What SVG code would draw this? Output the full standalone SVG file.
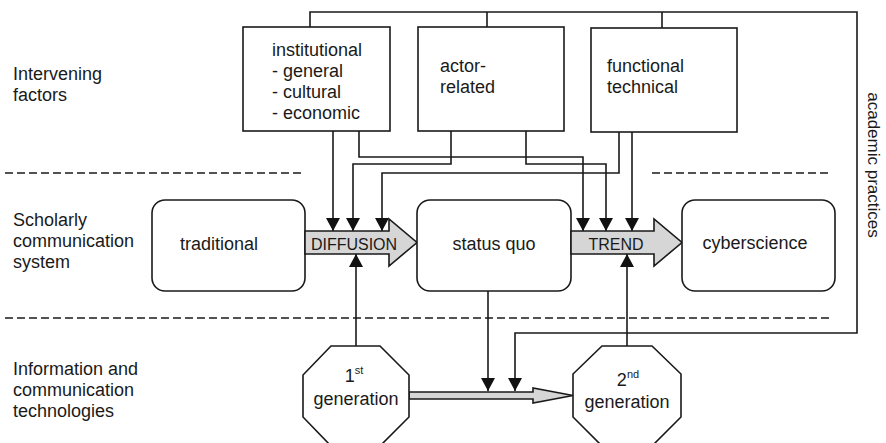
<svg xmlns="http://www.w3.org/2000/svg" width="886" height="443" viewBox="0 0 886 443">
<defs>
<marker id="ah" viewBox="0 0 14 14" refX="13" refY="7" markerWidth="14" markerHeight="14" markerUnits="userSpaceOnUse" orient="auto">
<path d="M0,0 L13,7 L0,14 z" fill="#111"/>
</marker>
<style>
text{font-family:"Liberation Sans",Arial,sans-serif;font-size:18px;fill:#1a1a1a}
.box{fill:#fff;stroke:#1a1a1a;stroke-width:1.6}
.big{fill:#d6d6d6;stroke:#1a1a1a;stroke-width:1.6}
.dash{stroke:#1a1a1a;stroke-width:1.5;stroke-dasharray:8 4;fill:none}
.con{fill:none;stroke:#1a1a1a;stroke-width:1.6}
.arr{marker-end:url(#ah)}
.mid{text-anchor:middle}
</style>
</defs>
<rect width="886" height="443" fill="#fff"/>
<g id="separators">
<line class="dash" x1="5" y1="173" x2="303" y2="173"/>
<line class="dash" x1="652" y1="173" x2="832" y2="173"/>
<line class="dash" x1="5" y1="318" x2="832" y2="318"/>
</g>
<g id="row-labels">
<text x="13" y="80">Intervening</text>
<text x="13" y="101">factors</text>
<text x="13" y="226">Scholarly</text>
<text x="13" y="247">communication</text>
<text x="13" y="268">system</text>
<text x="13" y="375">Information and</text>
<text x="13" y="396">communication</text>
<text x="13" y="417">technologies</text>
<text x="868" y="165" class="mid" transform="rotate(90 868 165)" style="font-size:17px">academic practices</text>
</g>
<g id="connectors">
<path class="con" d="M310,27 V12 H857 V333 H515 V391" marker-end="url(#ah)"/>
<path class="con" d="M487,12 V27 M662,12 V28"/>
<path class="con arr" d="M333,131 V231"/>
<path class="con arr" d="M359,131 V157 H583 V231"/>
<path class="con arr" d="M451,131 V164 H353 V231"/>
<path class="con arr" d="M526,131 V164 H606 V231"/>
<path class="con arr" d="M619,132 V173 H382 V231"/>
<path class="con arr" d="M632,132 V231"/>
<path class="con arr" d="M356,346 V254"/>
<path class="con arr" d="M627,346 V254"/>
<path class="con arr" d="M488,291 V391"/>
</g>
<g id="institutional">
<rect class="box" x="243" y="27" width="147" height="104"/>
<text x="272" y="56">institutional</text>
<text x="272" y="77">- general</text>
<text x="272" y="98">- cultural</text>
<text x="272" y="119">- economic</text>
</g>
<g id="actor-related">
<rect class="box" x="418" y="27" width="146" height="104"/>
<text x="440" y="72">actor-</text>
<text x="440" y="93">related</text>
</g>
<g id="functional-technical">
<rect class="box" x="591" y="28" width="146" height="104"/>
<text x="607" y="72">functional</text>
<text x="607" y="93">technical</text>
</g>
<g id="traditional">
<rect class="box" x="152" y="200" width="153" height="91" rx="13"/>
<text x="219" y="250" class="mid">traditional</text>
</g>
<g id="diffusion">
<polygon class="big" points="305,231 389,231 389,219 417,242.5 389,266 389,254 305,254"/>
<text x="354" y="250" class="mid" style="font-size:16px">DIFFUSION</text>
</g>
<g id="status-quo">
<rect class="box" x="417" y="200" width="154" height="91" rx="13"/>
<text x="494" y="250" class="mid">status quo</text>
</g>
<g id="trend">
<polygon class="big" points="571,231 654,231 654,219 682,242.5 654,266 654,254 571,254"/>
<text x="616" y="250" class="mid" style="font-size:16px">TREND</text>
</g>
<g id="cyberscience">
<rect class="box" x="682" y="200" width="153" height="91" rx="13"/>
<text x="755" y="249" class="mid">cyberscience</text>
</g>
<g id="ict-arrow">
<polygon class="big" points="409,392 533,392 533,388 573,395.5 533,403 533,399 409,399"/>
</g>
<g id="first-generation">
<polygon class="box" points="331,346 380,346 409,375 409,417 380,446 331,446 303,417 303,375"/>
<text x="354" y="382" class="mid">1<tspan style="font-size:11px" dy="-8">st</tspan></text>
<text x="356" y="405" class="mid">generation</text>
</g>
<g id="second-generation">
<polygon class="box" points="602,346 652,346 681,374 681,417 652,446 602,446 573,417 573,374"/>
<text x="628" y="386" class="mid">2<tspan style="font-size:11px" dy="-8">nd</tspan></text>
<text x="627" y="408" class="mid">generation</text>
</g>
</svg>
